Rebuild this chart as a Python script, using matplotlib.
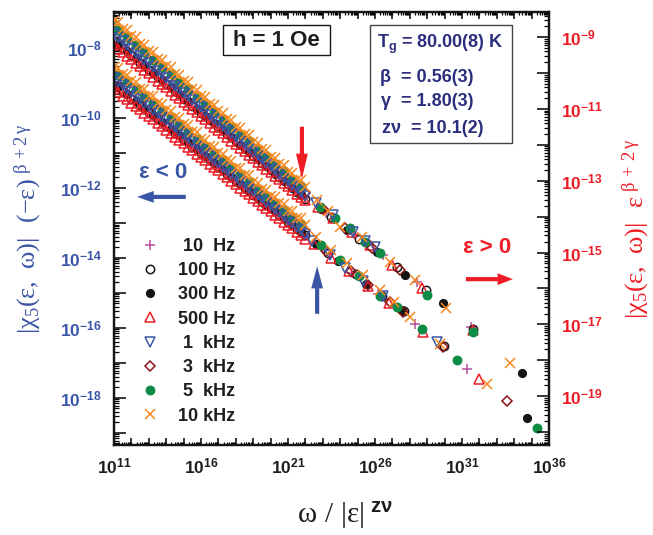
import numpy as np
import matplotlib
matplotlib.use("Agg")
import matplotlib.pyplot as plt
from matplotlib.ticker import LogLocator, FuncFormatter, NullFormatter
from matplotlib.patches import Rectangle

plt.rcParams['font.family'] = ['Liberation Sans', 'DejaVu Sans']
plt.rcParams['mathtext.fontset'] = 'custom'
plt.rcParams['mathtext.default'] = 'regular'
plt.rcParams['mathtext.rm'] = 'Liberation Sans'
plt.rcParams['mathtext.it'] = 'Liberation Sans:italic'
plt.rcParams['mathtext.bf'] = 'Liberation Sans:bold'

# ---------------------------------------------------------------------------
# Scaled fifth-order susceptibility, stored as log10 values.
# x: log10(omega / |eps|^(z nu));  y: log10(|chi5| |eps|^(beta + 2 gamma))
# "pos" = eps > 0 (right axis), "neg" = eps < 0 (left axis)
# Series order: 10 Hz, 100 Hz, 300 Hz, 500 Hz, 1 kHz, 3 kHz, 5 kHz, 10 kHz
# ---------------------------------------------------------------------------
freq_labels = [' 10  Hz', '100 Hz', '300 Hz', '500 Hz',
               ' 1  kHz', ' 3  kHz', ' 5  kHz', '10 kHz']

# abscissae of the densely sampled (far from Tg) part of each series
grid_a = [10.5, 11.0, 11.5, 12.0, 12.5, 13.0, 13.5, 14.0, 14.5, 15.0, 15.5, 16.0,
          16.5, 17.0, 17.5, 18.0, 18.5, 19.0, 19.5, 20.0, 20.5, 21.0, 21.5, 22.0]
grid_b = [10.75, 11.25, 11.75, 12.25, 12.75, 13.25, 13.75, 14.25, 14.75, 15.25,
          15.75, 16.25, 16.75, 17.25, 17.75, 18.25, 18.75, 19.25, 19.75, 20.25,
          20.75, 21.25, 21.75]
series_grid = ['a', 'a', 'b', 'b', 'b', 'a', 'b', 'a']

pos_dense_ly = [
    [-8.83, -9.03, -9.23, -9.43, -9.63, -9.83, -10.03, -10.23, -10.43, -10.63, -10.83, -11.03,
     -11.24, -11.44, -11.64, -11.84, -12.04, -12.24, -12.44, -12.64, -12.84, -13.04, -13.24, -13.44],
    [-8.91, -9.11, -9.31, -9.51, -9.71, -9.91, -10.11, -10.31, -10.51, -10.71, -10.91, -11.10,
     -11.30, -11.50, -11.70, -11.90, -12.10, -12.30, -12.50, -12.70, -12.90, -13.10, -13.30, -13.50],
    [-8.98, -9.18, -9.38, -9.59, -9.79, -9.99, -10.19, -10.39, -10.59, -10.79, -10.99, -11.19,
     -11.39, -11.59, -11.79, -12.00, -12.20, -12.40, -12.60, -12.80, -13.00, -13.20, -13.40],
    [-9.13, -9.32, -9.52, -9.72, -9.91, -10.11, -10.31, -10.50, -10.70, -10.90, -11.09, -11.29,
     -11.49, -11.68, -11.88, -12.08, -12.27, -12.47, -12.67, -12.86, -13.06, -13.26, -13.45],
    [-8.81, -9.02, -9.22, -9.43, -9.63, -9.84, -10.04, -10.25, -10.45, -10.65, -10.86, -11.06,
     -11.27, -11.47, -11.68, -11.88, -12.09, -12.29, -12.50, -12.70, -12.91, -13.11, -13.31],
    [-8.60, -8.81, -9.01, -9.22, -9.42, -9.63, -9.84, -10.04, -10.25, -10.45, -10.66, -10.86,
     -11.07, -11.28, -11.48, -11.69, -11.89, -12.10, -12.31, -12.51, -12.72, -12.92, -13.13, -13.33],
    [-8.59, -8.80, -9.00, -9.21, -9.42, -9.63, -9.83, -10.04, -10.25, -10.45, -10.66, -10.87,
     -11.08, -11.28, -11.49, -11.70, -11.90, -12.11, -12.32, -12.53, -12.73, -12.94, -13.15],
    [-8.34, -8.55, -8.76, -8.97, -9.18, -9.39, -9.60, -9.81, -10.02, -10.23, -10.44, -10.65,
     -10.86, -11.07, -11.28, -11.49, -11.70, -11.91, -12.12, -12.33, -12.54, -12.75, -12.96, -13.17],
]
# additional far-from-Tg points of 500 Hz, 1 kHz and 10 kHz on the other grid
pos_extra_ly = [
    [], [], [],
    [-9.03, -9.22, -9.42, -9.62, -9.81, -10.01, -10.21, -10.40, -10.60, -10.80, -10.99, -11.19,
     -11.39, -11.58, -11.78, -11.98, -12.18, -12.37, -12.57, -12.77, -12.96, -13.16, -13.36, -13.55],
    [-8.71, -8.92, -9.12, -9.33, -9.53, -9.73, -9.94, -10.14, -10.35, -10.55, -10.76, -10.96,
     -11.17, -11.37, -11.58, -11.78, -11.99, -12.19, -12.39, -12.60, -12.80, -13.01, -13.21, -13.42],
    [], [],
    [-8.37, -8.58, -8.79, -9.00, -9.21, -9.42, -9.63, -9.84, -10.05, -10.26, -10.47, -10.68,
     -10.89, -11.10, -11.31, -11.52, -11.73, -11.94, -12.15, -12.36, -12.57, -12.78, -12.99],
]
pos_tail_lx = [
    [23.2, 24.8, 26.46, 28.41, 31.52],
    [23.5, 25.1, 27.26, 28.93, 31.63],
    [22.9, 24.4, 26.1, 27.72, 29.91, 34.45],
    [22.7, 23.6, 24.68, 25.71, 26.98, 28.70, 31.63],
    [22.6, 23.59, 24.74, 25.4, 26.0],
    [23.0, 24.28, 25.8, 27.44],
    [22.84, 23.7, 24.56, 25.4, 26.29, 28.99, 31.63],
    [22.67, 23.3, 23.99, 25.25, 26.86, 28.30, 30.08, 33.76],
]
pos_tail_ly = [
    [-13.90, -14.47, -15.07, -15.82, -17.08],
    [-14.00, -14.62, -15.41, -16.05, -17.13],
    [-13.80, -14.38, -14.99, -15.63, -16.41, -18.36],
    [-13.72, -14.05, -14.43, -14.79, -15.35, -15.99, -17.16],
    [-13.62, -13.96, -14.43, -14.68, -14.85],
    [-13.80, -14.32, -14.88, -15.49],
    [-13.74, -14.05, -14.32, -14.70, -15.02, -16.19, -17.22],
    [-13.55, -13.85, -14.29, -14.57, -15.27, -15.77, -16.55, -18.08],
]

neg_dense_ly = [
    [-8.77, -8.97, -9.17, -9.37, -9.56, -9.76, -9.96, -10.16, -10.36, -10.56, -10.76, -10.95,
     -11.15, -11.35, -11.55, -11.75, -11.95, -12.15, -12.34, -12.54, -12.74, -12.94, -13.14, -13.34],
    [-8.86, -9.05, -9.25, -9.45, -9.64, -9.84, -10.03, -10.23, -10.43, -10.62, -10.82, -11.01,
     -11.21, -11.41, -11.60, -11.80, -11.99, -12.19, -12.39, -12.58, -12.78, -12.97, -13.17, -13.36],
    [-8.93, -9.12, -9.32, -9.52, -9.72, -9.91, -10.11, -10.31, -10.50, -10.70, -10.90, -11.10,
     -11.29, -11.49, -11.69, -11.89, -12.08, -12.28, -12.48, -12.67, -12.87, -13.07, -13.27],
    [-9.07, -9.27, -9.46, -9.65, -9.85, -10.04, -10.24, -10.43, -10.63, -10.82, -11.02, -11.21,
     -11.41, -11.60, -11.79, -11.99, -12.18, -12.38, -12.57, -12.77, -12.96, -13.16, -13.35],
    [-8.75, -8.96, -9.16, -9.36, -9.56, -9.77, -9.97, -10.17, -10.38, -10.58, -10.78, -10.98,
     -11.19, -11.39, -11.59, -11.79, -12.00, -12.20, -12.40, -12.61, -12.81, -13.01, -13.21],
    [-8.57, -8.77, -8.97, -9.18, -9.38, -9.58, -9.78, -9.99, -10.19, -10.39, -10.59, -10.80,
     -11.00, -11.20, -11.40, -11.61, -11.81, -12.01, -12.21, -12.42, -12.62, -12.82, -13.02, -13.23],
    [-8.55, -8.76, -8.96, -9.17, -9.37, -9.57, -9.78, -9.98, -10.18, -10.39, -10.59, -10.80,
     -11.00, -11.20, -11.41, -11.61, -11.82, -12.02, -12.22, -12.43, -12.63, -12.84, -13.04],
    [-8.34, -8.54, -8.75, -8.95, -9.16, -9.36, -9.57, -9.77, -9.98, -10.18, -10.39, -10.59,
     -10.80, -11.00, -11.21, -11.42, -11.62, -11.83, -12.03, -12.24, -12.44, -12.65, -12.85, -13.06],
]
neg_extra_ly = [
    [], [], [],
    [-8.97, -9.17, -9.36, -9.56, -9.75, -9.95, -10.14, -10.34, -10.53, -10.72, -10.92, -11.11,
     -11.31, -11.50, -11.70, -11.89, -12.09, -12.28, -12.48, -12.67, -12.86, -13.06, -13.25, -13.45],
    [-8.65, -8.86, -9.06, -9.26, -9.46, -9.67, -9.87, -10.07, -10.27, -10.48, -10.68, -10.88,
     -11.08, -11.29, -11.49, -11.69, -11.89, -12.10, -12.30, -12.50, -12.70, -12.91, -13.11, -13.31],
    [], [],
    [-8.36, -8.56, -8.77, -8.97, -9.18, -9.38, -9.59, -9.80, -10.00, -10.21, -10.41, -10.62,
     -10.82, -11.03, -11.23, -11.44, -11.64, -11.85, -12.05, -12.26, -12.46, -12.67, -12.87],
]
neg_tail_lx = [
    [23.0, 24.7, 26.2, 28.30, 31.29],
    [23.3, 24.9, 26.4, 27.67, 29.97],
    [22.6, 23.9, 25.5, 27.55, 34.74],
    [22.5, 23.5, 24.5, 25.6, 26.8, 28.76, 31.98],
    [22.4, 23.4, 24.3, 25.3, 26.46, 29.56],
    [23.2, 24.6, 25.6, 26.86, 27.61, 29.91, 33.59],
    [22.9, 24.0, 25.1, 26.29, 27.26, 28.70, 30.71, 35.31],
    [22.6, 23.5, 24.4, 25.3, 26.3, 27.1, 28.01, 29.74, 32.44],
]
neg_tail_ly = [
    [-13.75, -14.42, -15.02, -15.89, -17.17],
    [-13.85, -14.47, -15.10, -15.52, -16.52],
    [-13.60, -14.10, -14.75, -15.49, -18.57],
    [-13.60, -14.00, -14.38, -14.80, -15.30, -16.12, -17.46],
    [-13.52, -13.92, -14.28, -14.65, -15.09, -16.40],
    [-13.80, -14.37, -14.78, -15.26, -15.55, -16.55, -18.09],
    [-13.62, -14.05, -14.52, -15.09, -15.41, -16.03, -16.92, -18.85],
    [-13.40, -13.78, -14.15, -14.50, -14.92, -15.25, -15.69, -16.46, -17.60],
]

# marker styling per frequency
marker_shape = ['+', 'o', 'o', '^', 'v', 'D', 'o', 'x']
marker_edge = ['#b8509f', '#151515', '#151515', '#ee1d25', '#3a55a5', '#8c1418', '#0e8b45', '#f7891f']
marker_face = ['none', 'none', '#151515', 'none', 'none', 'none', '#0e8b45', 'none']
marker_size = [7.5, 6.0, 5.5, 7.0, 7.0, 5.0, 6.0, 7.5]
draw_rank = [1, 2, 3, 4, 7, 5, 6, 8]      # 1 kHz drawn just below 10 kHz

BLUE = '#3a55a5'
RED = '#ee1d25'
NAVY = '#2b2e7d'
DARK = '#1e1e1e'

fig = plt.figure(figsize=(6.53, 5.35), dpi=100)
ax = fig.add_axes([0.1746, 0.1682, 0.6661, 0.8094])
ax2 = ax.twinx()
ax2.set_position(ax.get_position())

for a in (ax, ax2):
    a.set_xscale('log')
    a.set_yscale('log')
ax.set_xlim(1e11, 1e36)
ax.set_ylim(10 ** -19.35, 10 ** -6.97)
ax2.set_ylim(10 ** -20.36, 10 ** -8.30)

handles = []
for i in range(8):
    grid = grid_a if series_grid[i] == 'a' else grid_b
    other = grid_b if series_grid[i] == 'a' else grid_a
    style = dict(ls='none', marker=marker_shape[i], ms=marker_size[i],
                 mec=marker_edge[i], mfc=marker_face[i], mew=1.1, zorder=2 + 0.1 * draw_rank[i])
    n_extra = len(neg_extra_ly[i])
    lx = np.array(grid + other[:n_extra] + neg_tail_lx[i])
    ly = np.array(neg_dense_ly[i] + neg_extra_ly[i] + neg_tail_ly[i])
    h, = ax.plot(10.0 ** lx, 10.0 ** ly, **style)
    handles.append(h)
    n_extra = len(pos_extra_ly[i])
    lx = np.array(grid + other[:n_extra] + pos_tail_lx[i])
    ly = np.array(pos_dense_ly[i] + pos_extra_ly[i] + pos_tail_ly[i])
    ax2.plot(10.0 ** lx, 10.0 ** ly, **style)

# ---- axes, ticks and tick labels ----
def exp_label(show):
    def f(v, pos):
        e = int(round(np.log10(v)))
        return f'$10^{{{e}}}$' if show(e) else ''
    return f

ax.xaxis.set_major_locator(LogLocator(base=10, numticks=60))
ax.xaxis.set_minor_locator(LogLocator(base=10, subs=np.arange(2, 10) * 1.0, numticks=60))
ax.xaxis.set_major_formatter(FuncFormatter(exp_label(lambda e: (e - 11) % 5 == 0)))
ax.xaxis.set_minor_formatter(NullFormatter())

ax.yaxis.set_major_locator(LogLocator(base=10, numticks=60))
ax.yaxis.set_minor_locator(LogLocator(base=10, subs=np.arange(2, 10) * 1.0, numticks=60))
ax.yaxis.set_major_formatter(FuncFormatter(exp_label(lambda e: e % 2 == 0)))
ax.yaxis.set_minor_formatter(NullFormatter())

ax2.yaxis.set_major_locator(LogLocator(base=10, numticks=60))
ax2.yaxis.set_minor_locator(LogLocator(base=10, subs=np.arange(2, 10) * 1.0, numticks=60))
ax2.yaxis.set_major_formatter(FuncFormatter(exp_label(lambda e: e % 2 != 0)))
ax2.yaxis.set_minor_formatter(NullFormatter())

ax.tick_params(axis='x', which='major', direction='in', length=5, width=1.1,
               top=True, labelsize=12.5, pad=8, labelcolor=DARK)
ax.tick_params(axis='x', which='minor', direction='in', length=2.5, width=0.9, top=True)
ax.tick_params(axis='y', which='major', direction='in', length=8.5, width=1.1,
               right=False, labelsize=12.5, pad=9, labelcolor=BLUE)
ax.tick_params(axis='y', which='minor', direction='in', length=3.8, width=0.9, right=False)
ax2.tick_params(axis='y', which='major', direction='in', length=8.5, width=1.1,
                labelsize=12.5, pad=9, labelcolor=RED)
ax2.tick_params(axis='y', which='minor', direction='in', length=3.8, width=0.9)

for lab in ax.get_xticklabels() + ax.get_yticklabels() + ax2.get_yticklabels():
    lab.set_fontweight('bold')

for a in (ax, ax2):
    for s in a.spines.values():
        s.set_linewidth(1.6)
        s.set_color('#151515')
ax2.patch.set_visible(False)

# ---- axis titles ----
serif = ['Liberation Serif', 'DejaVu Serif']
ax.set_xlabel(r'$\omega\ /\ |\varepsilon|^{\ \mathbf{z\nu}}$', fontsize=21, family=serif, color=DARK)
ax.xaxis.set_label_coords(0.53, -0.125)
ax.set_ylabel(r'$|\chi_5(\varepsilon,\ \omega)|\ \ (-\varepsilon)^{\ \beta\,+2\,\gamma}$',
              fontsize=19, family=serif, color=BLUE)
ax.yaxis.set_label_coords(-0.163, 0.5)
ax2.set_ylabel(r'$|\chi_5(\varepsilon,\ \omega)|\ \ \varepsilon^{\ \beta\,+\,2\,\gamma}$',
               fontsize=19, family=serif, color=RED)
ax2.yaxis.set_label_coords(1.163, 0.5)

# ---- legend ----
leg = ax.legend(handles, freq_labels, loc='upper left', bbox_to_anchor=(0.062, 0.478),
                frameon=False, numpoints=1, handlelength=1.0, handletextpad=1.05,
                labelspacing=0.40, borderpad=0, borderaxespad=0,
                prop=dict(family='Liberation Sans', weight='bold', size=13))
for t in leg.get_texts():
    t.set_color(DARK)

# ---- annotation boxes ----
ax2.add_patch(Rectangle((0.251, 0.900), 0.246, 0.070, transform=ax2.transAxes,
                        fill=False, ec='#151515', lw=1.0, zorder=5))
ax2.text(0.374, 0.935, 'h = 1 Oe', transform=ax2.transAxes, ha='center', va='center',
         fontsize=16, fontweight='bold', color=DARK, zorder=6)

ax2.add_patch(Rectangle((0.5885, 0.697), 0.3265, 0.273, transform=ax2.transAxes,
                        fill=False, ec='#444444', lw=1.0, zorder=5))
box_lines = [(0.605, 0.917, r'T$_g$ = 80.00(8) K'),
             (0.611, 0.838, 'β  = 0.56(3)'),
             (0.613, 0.783, 'γ  = 1.80(3)'),
             (0.617, 0.721, 'zν  = 10.1(2)')]
for x, y, s in box_lines:
    ax2.text(x, y, s, transform=ax2.transAxes, ha='left', va='baseline',
             fontsize=13, fontweight='bold', color=NAVY, zorder=6)

# ---- arrows and side markers ----
def arrow(tail, head, color, head_length):
    style = f'simple,head_length={head_length},head_width=0.85,tail_width=0.30'
    ax2.annotate('', xy=head, xytext=tail, xycoords='axes fraction',
                 textcoords='axes fraction', zorder=6,
                 arrowprops=dict(arrowstyle=style, color=color, lw=0,
                                 mutation_scale=10, shrinkA=0, shrinkB=0))

arrow((0.432, 0.735), (0.432, 0.615), RED, 1.8)
arrow((0.467, 0.303), (0.467, 0.413), BLUE, 1.6)
arrow((0.165, 0.573), (0.053, 0.573), BLUE, 1.2)
arrow((0.809, 0.383), (0.917, 0.383), RED, 1.1)

ax2.text(0.113, 0.630, 'ε < 0', transform=ax2.transAxes, ha='center', va='center',
         fontsize=16, fontweight='bold', color=BLUE, zorder=6)
ax2.text(0.857, 0.457, 'ε > 0', transform=ax2.transAxes, ha='center', va='center',
         fontsize=16, fontweight='bold', color=RED, zorder=6)

# unlabeled decade ticks keep their tick mark but carry no text object
fig.canvas.draw()
for axis in (ax.xaxis, ax.yaxis, ax2.yaxis):
    for tk in axis.get_major_ticks():
        if tk.label1.get_text() == '':
            tk.label1.set_visible(False)
        if tk.label2.get_text() == '':
            tk.label2.set_visible(False)

fig.savefig('out.png', dpi=100)
